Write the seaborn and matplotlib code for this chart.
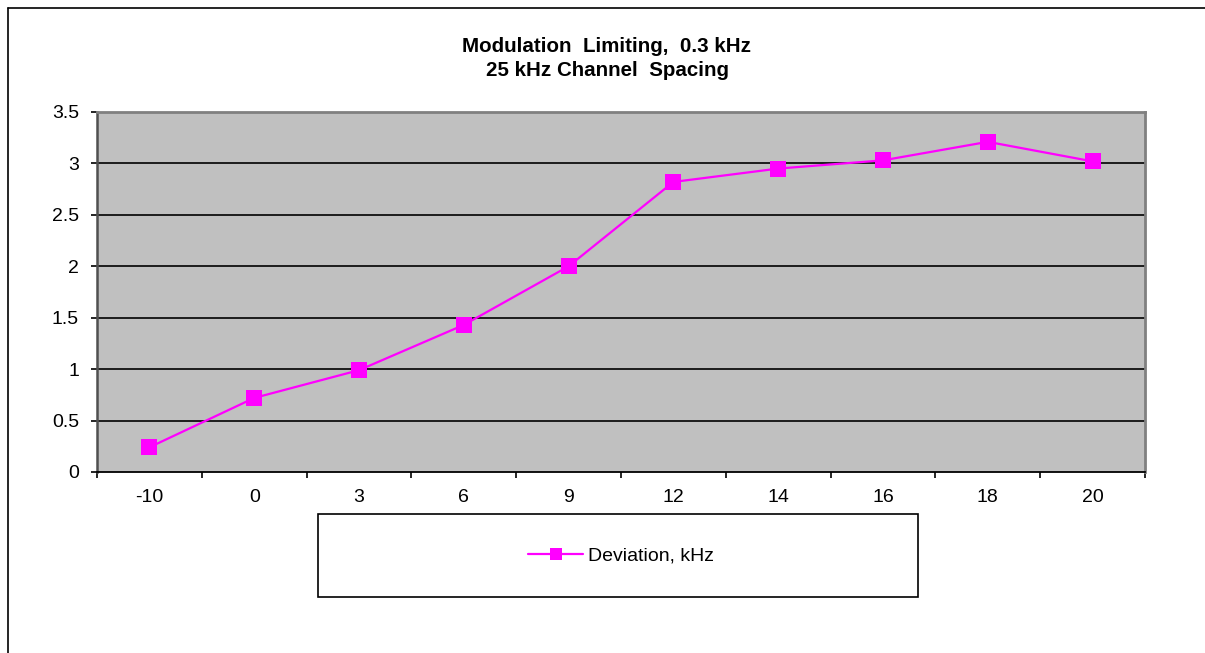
import matplotlib
matplotlib.use("Agg")
import matplotlib.pyplot as plt
from matplotlib.lines import Line2D
from matplotlib.patches import Rectangle
import numpy as np
import pandas as pd
import seaborn as sns

# Data
levels = ["-10", "0", "3", "6", "9", "12", "14", "16", "18", "20"]
deviation = [0.24, 0.72, 0.99, 1.43, 2.0, 2.82, 2.95, 3.03, 3.21, 3.02]
y_ticks = [0, 0.5, 1, 1.5, 2, 2.5, 3, 3.5]
y_tick_labels = ["0", "0.5", "1", "1.5", "2", "2.5", "3", "3.5"]
series_name = "Deviation, kHz"
title_lines = ["Modulation  Limiting,  0.3 kHz", "25 kHz Channel  Spacing"]

sns.set_theme(style="white")
plt.rcParams["font.family"] = ["Liberation Sans", "DejaVu Sans"]

df = pd.DataFrame({"level": levels, "deviation": deviation})

fig = plt.figure(figsize=(12.05, 6.53), dpi=100)
ax = fig.add_axes([97 / 1205, 1 - 472 / 653, (1145 - 97) / 1205, (472 - 112) / 653])
ax.set_facecolor("#C0C0C0")

sns.lineplot(data=df, x="level", y="deviation", ax=ax, color="#FF00FF",
             linewidth=1.6, marker="s", markersize=11.5, markeredgewidth=0,
             sort=False, label=series_name, legend=False)

ax.set_xlim(-0.5, len(levels) - 0.5)
ax.set_ylim(0, 3.5)
ax.set_yticks(y_ticks)
ax.set_yticklabels(y_tick_labels)
ax.set_xticks(range(len(levels)))
ax.set_xticklabels(levels)
ax.set_xticks(np.arange(-0.5, len(levels)), minor=True)
ax.set_xlabel("")
ax.set_ylabel("")

# Horizontal gridlines
for v in y_ticks[1:-1]:
    ax.axhline(v, color="black", linewidth=1.2, zorder=1)

ax.tick_params(axis="x", which="major", length=0, pad=12, labelsize=14, colors="black")
ax.tick_params(axis="x", which="minor", length=4, width=1.2, direction="out",
               color="black", bottom=True)
ax.tick_params(axis="y", which="major", length=4, width=1.2, direction="out",
               color="black", left=True, pad=9, labelsize=14, labelcolor="black")

for side in ["top", "right"]:
    ax.spines[side].set_color("#808080")
    ax.spines[side].set_linewidth(2)
ax.spines["bottom"].set_color("black")
ax.spines["bottom"].set_linewidth(1.3)
ax.spines["left"].set_color("#505050")
ax.spines["left"].set_linewidth(1.8)

# Title
fig.text(607 / 1205, 1 - 46 / 653, title_lines[0], ha="center", va="center",
         fontsize=14.8, fontweight="bold", color="black")
fig.text(607 / 1205, 1 - 70 / 653, title_lines[1], ha="center", va="center",
         fontsize=14.8, fontweight="bold", color="black")

# Legend box
fig.patches.append(Rectangle((318 / 1205, 1 - 597 / 653), 600 / 1205, 83 / 653,
                             transform=fig.transFigure, facecolor="white",
                             edgecolor="black", linewidth=1.2))
handles, labels = ax.get_legend_handles_labels()
fig.legend(handles, labels, loc="center", bbox_to_anchor=(621 / 1205, 1 - 556 / 653),
           frameon=False, fontsize=14, handlelength=2.8, handletextpad=0.25,
           markerscale=0.8, labelcolor="black")

# Outer chart border (top and left edges)
fig.lines.append(Line2D([8 / 1205, 8 / 1205], [0, 1 - 8 / 653], transform=fig.transFigure,
                        color="black", linewidth=1.2))
fig.lines.append(Line2D([8 / 1205, 1], [1 - 8 / 653, 1 - 8 / 653], transform=fig.transFigure,
                        color="black", linewidth=1.2))

fig.savefig("out.png", dpi=100, facecolor="white")
